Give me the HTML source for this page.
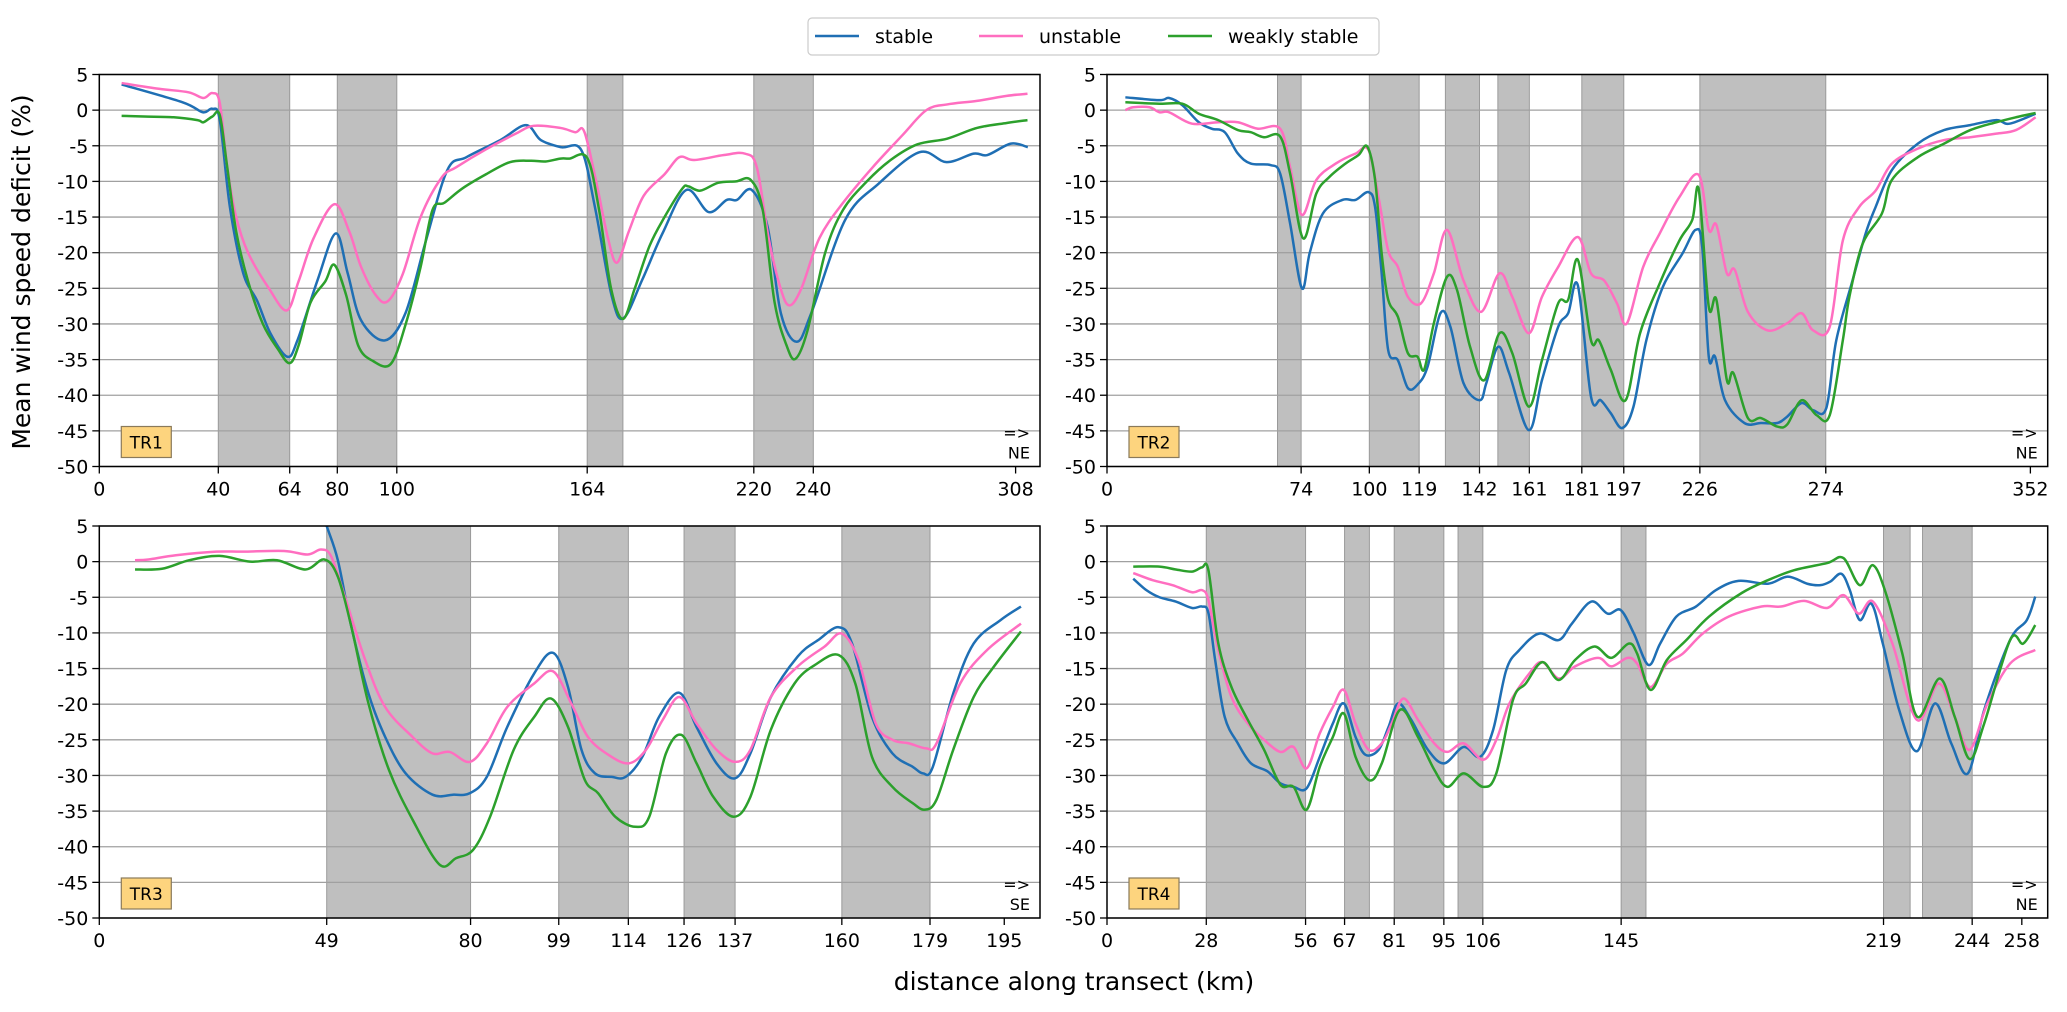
<!DOCTYPE html>
<html><head><meta charset="utf-8"><title>Mean wind speed deficit along transects</title>
<style>
html,body{margin:0;padding:0;background:#fff;}
svg{display:block;font-family:"DejaVu Sans","Liberation Sans",sans-serif;}
</style></head>
<body>
<svg id="chart" width="2067" height="1012" viewBox="0 0 2067 1012" xmlns="http://www.w3.org/2000/svg">
<rect width="2067" height="1012" fill="#fff"/>
<g id="legend">
<rect x="808" y="18" width="571" height="37" rx="4" fill="#fff" stroke="#ccc" stroke-width="1.2"/>
<g><line x1="815" y1="36" x2="859" y2="36" stroke="#1f6fb4" stroke-width="2.5"/><text x="875" y="43" font-size="19" fill="#000">stable</text></g>
<g><line x1="979" y1="36" x2="1023" y2="36" stroke="#ff6ec0" stroke-width="2.5"/><text x="1039" y="43" font-size="19" fill="#000">unstable</text></g>
<g><line x1="1168" y1="36" x2="1212" y2="36" stroke="#2ca02c" stroke-width="2.5"/><text x="1228" y="43" font-size="19" fill="#000">weakly stable</text></g>
</g>
<text transform="translate(30,272) rotate(-90)" text-anchor="middle" font-size="25" fill="#000">Mean wind speed deficit (%)</text>
<text x="1074" y="990" text-anchor="middle" font-size="25" fill="#000">distance along transect (km)</text>
</svg>
<script>
// ---- Panel TR1 data ----
const p1Ticks = [0,40,64,80,100,164,220,240,308];
const p1Bands = [[40,64],[80,100],[164,176],[220,240]];
const p1StableKm = [7.5,28,34.8,38,40.5,43.9,48.4,53,57.5,63.2,66.6,73.4,79.5,83.5,88,96,102.9,109.8,117,123.4,134.8,143.4,148.4,155.2,162,166.6,172.3,176.2,182.5,189.3,197.3,204.8,210.9,214.3,219.3,224.6,229.1,234.4,239.3,250.7,262,275.7,284.8,293.9,298.5,306.4,312.1];
const p1StableVal = [3.6,1.1,-0.3,0.2,-1.4,-13.6,-22.9,-26.7,-31.3,-34.6,-32.3,-23.8,-17.3,-22.9,-29.5,-32.3,-28.5,-18.3,-8.4,-6.6,-4.2,-2.1,-4.2,-5.2,-5.6,-13.6,-26.2,-29.2,-23.8,-17.3,-11.2,-14.3,-12.6,-12.6,-11.2,-16.3,-28.5,-32.5,-28.5,-15.4,-10.3,-5.9,-7.3,-6.1,-6.3,-4.7,-5.2];
const p1UnstableKm = [7.5,20,30,35,38,40.5,43,46,50,57,63,67,72,79,84,88,93,97,102,108,115,120,130,140,146,155,160,163,167,171,174,178,183,190,195,200,210,217,221,225,229,232,236,242,250,260,270,278,285,295,305,312];
const p1UnstableVal = [3.8,3.0,2.5,1.7,2.4,1.0,-8,-15,-20,-25,-28.1,-24,-18,-13.2,-17,-22,-26,-26.8,-23,-15,-9.5,-8,-5.5,-3.3,-2.2,-2.5,-3.1,-3.0,-10,-18,-21.4,-17,-12,-9,-6.6,-7.0,-6.3,-6.1,-8,-18,-25,-27.4,-25,-18,-13,-8,-3.5,0,0.8,1.3,2.0,2.3];
const p1WeakKm = [7.5,15,25,33,35,38,40.5,43,46,50,55,60,64,67,71,76,79,83,87,92,98,103,108,112,116,122,130,138,145,150,155,158,164,168,172,176,180,185,190,196,198,202,208,214,219,223,227,231,234,238,244,250,258,266,275,285,295,305,312];
const p1WeakVal = [-0.8,-0.9,-1.0,-1.4,-1.7,-0.9,-0.7,-8,-17,-24,-30,-33.5,-35.5,-33,-27,-24,-21.7,-26,-33,-35.2,-35.6,-30,-22,-14,-13,-11,-9,-7.3,-7.1,-7.2,-6.8,-6.8,-6.7,-14,-25,-29.3,-25,-19,-15,-11,-10.7,-11.3,-10.2,-10.0,-9.8,-14,-27,-33,-34.9,-31,-20,-14,-10,-7,-4.8,-4.0,-2.5,-1.8,-1.4];

// ---- Panel TR2 data ----
const p2Ticks = [0,74,100,119,142,161,181,197,226,274,352];
const p2Bands = [[65,74],[100,119],[129,142],[149,161],[181,197],[226,274]];
const p2StableKm = [7,20,23.7,28.7,35,39.9,44.9,49.9,54.8,62.3,66,69.8,74.3,77.3,82.3,89.7,94.7,99.7,102.2,104.7,107.2,110.9,114.7,118.4,122.2,127.1,130.9,135.9,142.1,144.6,149.1,153.3,160.8,165.8,172,175.8,179.5,184.5,188.2,192,196.4,200.7,205.6,211.9,219.4,224.4,226.9,229.4,231.8,235.6,243,249.3,255.5,259.3,264.8,269.2,274.2,278,284.2,289.2,293,299.2,309.1,319.1,329.1,339,344,354];
const p2StableVal = [1.8,1.4,1.7,0.7,-1.7,-2.6,-3.1,-6.1,-7.5,-7.7,-8.9,-15.9,-25.0,-20,-14.5,-12.6,-12.6,-11.5,-13.6,-22.9,-33.7,-35.1,-39,-38.5,-36,-28.5,-30.4,-38.3,-40.7,-38.3,-33.2,-36.9,-44.9,-37.9,-30.4,-28.5,-24.6,-40.2,-40.7,-42.5,-44.6,-41.6,-32.3,-24.8,-20.1,-16.8,-19.2,-34.6,-34.6,-40.7,-43.9,-43.9,-43.9,-43,-41.1,-42.1,-41.8,-32.3,-23.9,-17.3,-13.6,-8.4,-4.7,-2.8,-2.1,-1.4,-1.9,-0.5];
const p2UnstableKm = [7,10,16.2,20,23.7,32.4,42.4,49.9,57.3,66,69.8,74.3,79.8,87.2,94.7,99.7,103.5,107.2,110.9,114.7,119.7,124.6,129.6,135.9,142.6,149.6,154.5,160.8,165.8,172,179.5,184.5,189.5,194.4,198.2,204.4,210.7,218.2,225.6,229.4,232.3,236.3,239.3,244.3,251.8,259.3,264.8,269.2,275.5,280.5,286.7,293,299.2,309.1,319.1,329.1,339,346.5,354];
const p2UnstableVal = [0,0.4,0.4,-0.3,-0.3,-1.9,-1.7,-1.7,-2.6,-2.6,-8,-14.7,-9.8,-7.5,-6.1,-5.6,-12.2,-19.7,-22,-26.2,-27.1,-22.9,-16.8,-23.9,-28.3,-22.9,-26.2,-31.3,-26.2,-22,-17.8,-22.9,-23.9,-27.1,-29.9,-22,-17.3,-12.2,-9.1,-16.8,-16.1,-22.9,-22.4,-28.3,-30.9,-29.9,-28.5,-30.9,-30.4,-18.3,-13.6,-11.3,-7.5,-5.4,-4.2,-3.8,-3.3,-2.8,-1.0];
const p2WeakKm = [7,20,28.7,35,42.4,49.9,54.8,59.8,66,69.8,74.8,79.8,84.7,90.9,95.9,99.2,102.2,104.7,107.2,110.9,114.7,118.4,120.9,124.6,129.6,133.4,138.4,143.8,149.6,154.5,160.8,165.8,172,175.8,179.5,184.5,187.5,192,197.7,203.2,210.7,218.2,223.1,225.6,229.4,232.3,236.3,238.8,244.3,249.3,255.5,259.3,264.8,270.5,275.5,280.5,283,288,295.4,299.2,309.1,319.1,329.1,339,346.5,354];
const p2WeakVal = [1.1,0.9,0.9,-0.5,-1.4,-2.8,-3.1,-3.8,-3.7,-8.9,-18,-11.7,-9.4,-7.5,-6.3,-5.1,-9.8,-20.1,-26.6,-29,-34.1,-34.6,-36.4,-29.9,-23.4,-25.2,-33.2,-37.9,-31.3,-34.1,-41.6,-35.1,-27.1,-26.6,-21,-32.3,-32.3,-36.4,-40.7,-31.3,-24.3,-18.3,-15.4,-11.2,-27.6,-26.6,-37.9,-36.9,-43.2,-43.2,-44.4,-44.1,-40.7,-42.8,-42.8,-32.3,-26.2,-18.8,-14.5,-9.8,-6.6,-4.7,-2.8,-1.7,-1.0,-0.4];

// ---- Panel TR3 data ----
const p3Ticks = [0,49,80,99,114,126,137,160,179,195];
const p3Bands = [[49,80],[99,114],[126,137],[160,179]];
const p3StableKm = [47,49,51.4,54.3,58,61.6,66,71.8,76.2,79.8,83.5,87.9,93.7,97.8,101,103.9,106.8,110.4,113.4,117,120.6,125,128.7,133,137,140.3,144.7,150.5,154.9,159.3,162.2,166.5,170.9,175.3,177.5,179.6,184,188.4,194.2,198.6];
const p3StableVal = [9,5,0.2,-9.1,-18.5,-24.6,-29.7,-32.7,-32.7,-32.5,-30.2,-23.2,-15.7,-12.8,-17.6,-26.4,-29.7,-30.2,-30.2,-27.4,-21.8,-18.4,-23.2,-28.3,-30.4,-26.9,-19,-13.3,-11,-9.2,-11.5,-21.8,-26.9,-28.8,-29.7,-28.8,-18.5,-11.5,-8.2,-6.3];
const p3UnstableKm = [7.7,10.6,16.5,25.2,31,39.8,44.9,47.8,50,52.9,57.3,61.6,67.5,71.8,75.5,79.8,83.5,87.9,93.7,97.8,101.7,105.3,109.7,114.1,117.8,121.4,125,128.7,133,137,140.3,144.7,150.5,156.3,160,163.6,167.3,170.9,174.5,178.2,180.4,185.5,191.3,198.6];
const p3UnstableVal = [0.2,0.3,0.9,1.4,1.4,1.5,1.0,1.7,0.7,-4.9,-13.8,-20.4,-24.6,-26.9,-26.7,-28.1,-25.5,-20.4,-17.1,-15.4,-19.9,-24.6,-27.1,-28.3,-26.4,-22.2,-19,-22.7,-26.4,-28.1,-26.4,-19,-14.7,-11.9,-10.1,-13.8,-22.7,-25,-25.5,-26.2,-25.5,-17.1,-12.4,-8.7];
const p3WeakKm = [7.7,13.5,19.4,25.9,32.5,38.3,44.4,48.5,51.4,54.3,58,62.4,67.5,73.3,76.9,80.6,84.2,89.3,93.7,97.3,101,104.6,107.5,111.2,115.5,118.5,122.1,125.4,128.7,132.3,136.7,140.3,144.7,149.8,154.2,159.3,162.9,166.5,170.9,175.3,177.9,180.4,184,188.4,192.8,198.6];
const p3WeakVal = [-1.1,-1.0,0.2,0.8,0.0,0.2,-1.1,0.3,-2.1,-9.1,-19.9,-29.2,-36.2,-42.5,-41.6,-40.4,-35.8,-26.4,-21.8,-19.2,-23.2,-30.6,-32.5,-35.8,-37.2,-35.8,-26.9,-24.3,-28.3,-33,-35.8,-33,-23.6,-17.1,-14.5,-13.1,-17.1,-27.4,-31.6,-33.9,-34.8,-33.4,-26.4,-19,-14.7,-9.8];

// ---- Panel TR4 data ----
const p4Ticks = [0,28,56,67,81,95,106,145,219,244,258];
const p4Bands = [[28,56],[67,74],[81,95],[99,106],[145,152],[219,226.5],[230,244]];
const p4StableKm = [7.4,11.1,14.8,19.4,24,26.8,28.6,30.5,33.2,36.9,40.6,45.2,48.9,52.6,56.3,60,63.7,66.8,70.1,72.9,76.6,79.4,82.1,85.8,90.5,95.1,100.6,105.2,108.9,112.6,116.3,121.8,127.4,131.1,136.6,141.2,144.9,148.6,152.7,156,160.6,166.1,171.7,178.1,186.4,192,197.5,201.2,204,207.1,209.5,212.3,215.6,218.8,223.4,228.4,233.5,238.1,242.8,247.4,254.7,259.4,261.8];
const p4StableVal = [-2.4,-4.0,-5.0,-5.6,-6.5,-6.3,-7.2,-13.8,-21.8,-25.5,-28.3,-29.4,-31.1,-31.6,-31.8,-27.4,-22.7,-19.9,-24.6,-27.1,-26.4,-23.2,-19.9,-22.2,-26.4,-28.3,-26,-27.4,-23.6,-15.2,-12.4,-10.1,-11,-8.7,-5.6,-7.3,-6.8,-10.1,-14.5,-11.5,-7.7,-6.3,-4.0,-2.7,-3.1,-2.1,-3.1,-3.3,-2.8,-1.7,-4.0,-8.2,-5.9,-11.5,-20.8,-26.6,-19.9,-25.5,-29.7,-20.8,-11,-8.2,-4.9];
const p4UnstableKm = [7.4,12.9,18.5,24,26.8,28.6,31.4,35.1,39.7,44.3,48.9,52.6,56.3,60,63.7,66.8,70.1,73.8,77.5,80.3,83.6,87.7,92.3,96,100.6,106.1,109.8,113.5,119.1,122.8,127.4,132,138.5,142.2,146.8,149.5,153.3,157.9,162.4,168,175.4,184.6,190.1,196.6,203.1,207.7,212,216,221.5,228.4,234.5,239.1,243.3,248.3,254.7,261.8];
const p4UnstableVal = [-1.6,-2.6,-3.3,-4.3,-4.0,-5.4,-12.4,-19,-22.7,-25,-26.7,-26,-29,-24.1,-20.4,-18,-22.7,-26.4,-25.5,-22.7,-19.2,-22.2,-25.5,-26.7,-25.5,-27.8,-25,-19.9,-15.7,-14.1,-16.4,-14.7,-13.5,-14.7,-13.5,-14.3,-17.6,-14.3,-12.9,-10.1,-7.7,-6.3,-6.3,-5.5,-6.5,-4.7,-7.3,-5.6,-11.5,-22.2,-17.1,-21.8,-26.4,-19.9,-14.3,-12.4];
const p4WeakKm = [7.4,14.8,19.4,24,26.8,28.6,31.4,35.1,39.7,44.3,48.9,52.6,56.3,60,63.7,66.8,70.1,74.1,77.5,82.6,87.7,92.3,96,100.6,106.1,109.8,114.5,118.1,122.8,127.4,132,137.5,142.2,147.1,149.5,153.3,157.9,163.4,169.8,179,186.4,193.8,203.1,207.7,212.3,216,219.7,224.3,228.6,234.8,239.1,243.3,247.4,254.7,258.4,261.8];
const p4WeakVal = [-0.7,-0.7,-1.1,-1.4,-0.8,-1.2,-11.5,-17.6,-22.2,-26.4,-31.3,-31.6,-34.8,-28.8,-24.6,-21.3,-27.4,-30.7,-28.3,-20.8,-24.6,-29.2,-31.6,-29.7,-31.6,-29.7,-19.4,-17.1,-14.1,-16.6,-13.8,-11.9,-13.5,-11.5,-12.9,-18,-13.8,-11,-7.7,-4.4,-2.6,-1.2,-0.2,0.5,-3.3,-0.5,-4.5,-12.9,-21.8,-16.4,-21.8,-27.7,-22.7,-11,-11.5,-8.9];

const yTicks = [5,0,-5,-10,-15,-20,-25,-30,-35,-40,-45,-50];

const NS = 'http://www.w3.org/2000/svg';
const svg = document.getElementById('chart');
const COLORS = {stable:'#1f6fb4', unstable:'#ff6ec0', weak:'#2ca02c'};

function mk(tag, attrs, parent){
  const e = document.createElementNS(NS, tag);
  for (const k in attrs) e.setAttribute(k, attrs[k]);
  if (parent) parent.appendChild(e);
  return e;
}

function smoothPath(pts){
  let d = 'M' + pts[0][0].toFixed(2) + ',' + pts[0][1].toFixed(2);
  for (let i = 0; i < pts.length - 1; i++){
    const p0 = pts[i-1] || pts[i], p1 = pts[i], p2 = pts[i+1], p3 = pts[i+2] || pts[i+1];
    const t = 1/6;
    const c1x = p1[0] + (p2[0]-p0[0])*t, c1y = p1[1] + (p2[1]-p0[1])*t;
    const c2x = p2[0] - (p3[0]-p1[0])*t, c2y = p2[1] - (p3[1]-p1[1])*t;
    d += ' C' + c1x.toFixed(2) + ',' + c1y.toFixed(2) + ' ' + c2x.toFixed(2) + ',' + c2y.toFixed(2) + ' ' + p2[0].toFixed(2) + ',' + p2[1].toFixed(2);
  }
  return d;
}

function drawPanel(cfg){
  const L = cfg.left, T = cfg.top, W = 940.7, H = 392;
  const xs = v => L + v / cfg.xmax * W;
  const ys = v => T + (5 - v) / 55 * H;
  const g = mk('g', {}, svg);
  
  
  const clipId = 'clip-' + cfg.name;
  const cp = mk('clipPath', {id: clipId}, g);
  mk('rect', {x: L, y: T, width: W, height: H}, cp);

  cfg.bands.forEach((b, i) => {
    const r = mk('rect', {x: xs(b[0]), y: T, width: xs(b[1]) - xs(b[0]), height: H, fill: '#bfbfbf', stroke: '#9a9a9a', 'stroke-width': 1}, g);
    
    
  });

  yTicks.forEach(v => {
    const y = ys(v);
    const gl = mk('line', {x1: L, x2: L + W, y1: y, y2: y, stroke: '#a0a0a0', 'stroke-width': 1.3}, g);
    
    
    mk('line', {x1: L - 7, x2: L, y1: y, y2: y, stroke: '#000', 'stroke-width': 1.3}, g);
    const t = mk('text', {x: L - 11, y: y + 7, 'text-anchor': 'end', 'font-size': 19, fill: '#000'}, g);
    t.textContent = String(v);
    
    
  });

  cfg.ticks.forEach(v => {
    const x = xs(v);
    mk('line', {x1: x, x2: x, y1: T + H, y2: T + H + 7, stroke: '#000', 'stroke-width': 1.3}, g);
    const t = mk('text', {x: x, y: T + H + 29, 'text-anchor': 'middle', 'font-size': 19, fill: '#000'}, g);
    t.textContent = String(v);
    
    
  });

  cfg.series.forEach(s => {
    const pts = s.km.map((k, i) => [xs(k), ys(s.val[i])]);
    const p = mk('path', {d: smoothPath(pts), fill: 'none', stroke: COLORS[s.key], 'stroke-width': 2.5, 'stroke-linejoin': 'round', 'clip-path': 'url(#' + clipId + ')'}, g);
    
    
  });

  const frame = mk('rect', {x: L, y: T, width: W, height: H, fill: 'none', stroke: '#000', 'stroke-width': 1.5}, g);
  
  

  const lab = mk('g', {}, g);
  
  
  mk('rect', {x: L + 22, y: T + H - 40, width: 50, height: 31, fill: '#fdd47e', stroke: '#8a7a5a', 'stroke-width': 1.2}, lab);
  const lt = mk('text', {x: L + 47, y: T + H - 18, 'text-anchor': 'middle', 'font-size': 17, fill: '#000'}, lab);
  lt.textContent = cfg.name;

  const dir = mk('g', {}, g);
  
  
  const a = mk('text', {x: L + W - 10, y: T + H - 28, 'text-anchor': 'end', 'font-size': 16, fill: '#000'}, dir);
  a.textContent = '=>';
  const d = mk('text', {x: L + W - 10, y: T + H - 8, 'text-anchor': 'end', 'font-size': 16, fill: '#000'}, dir);
  d.textContent = cfg.dir;
}

drawPanel({name: 'TR1', left: 99.3, top: 74.5, xmax: 316.2, ticks: p1Ticks, bands: p1Bands, dir: 'NE', series: [
  {key: 'stable', km: p1StableKm, val: p1StableVal},
  {key: 'unstable', km: p1UnstableKm, val: p1UnstableVal},
  {key: 'weak', km: p1WeakKm, val: p1WeakVal}]});
drawPanel({name: 'TR2', left: 1107, top: 74.5, xmax: 358.6, ticks: p2Ticks, bands: p2Bands, dir: 'NE', series: [
  {key: 'stable', km: p2StableKm, val: p2StableVal},
  {key: 'unstable', km: p2UnstableKm, val: p2UnstableVal},
  {key: 'weak', km: p2WeakKm, val: p2WeakVal}]});
drawPanel({name: 'TR3', left: 99.3, top: 526, xmax: 202.7, ticks: p3Ticks, bands: p3Bands, dir: 'SE', series: [
  {key: 'stable', km: p3StableKm, val: p3StableVal},
  {key: 'unstable', km: p3UnstableKm, val: p3UnstableVal},
  {key: 'weak', km: p3WeakKm, val: p3WeakVal}]});
drawPanel({name: 'TR4', left: 1107, top: 526, xmax: 265.3, ticks: p4Ticks, bands: p4Bands, dir: 'NE', series: [
  {key: 'stable', km: p4StableKm, val: p4StableVal},
  {key: 'unstable', km: p4UnstableKm, val: p4UnstableVal},
  {key: 'weak', km: p4WeakKm, val: p4WeakVal}]});
</script>
</body></html>
